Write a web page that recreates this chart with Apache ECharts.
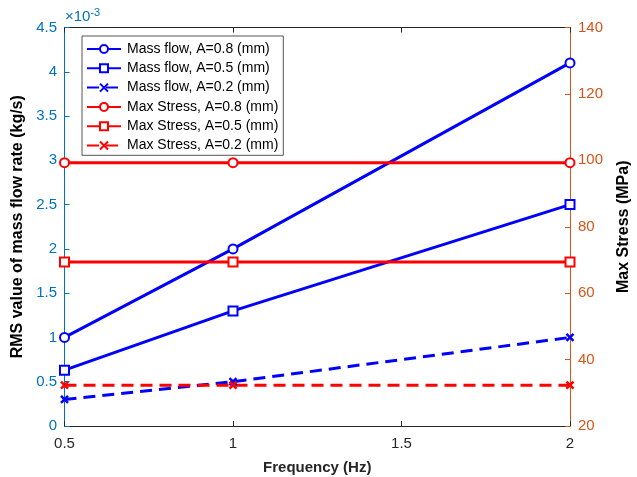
<!DOCTYPE html>
<html>
<head>
<meta charset="utf-8">
<script src="https://cdn.jsdelivr.net/npm/echarts@6/dist/echarts.min.js"></script>
<style>
  html, body { margin: 0; padding: 0; background: #fff; }
  #chart { width: 637px; height: 477px; }
</style>
</head>
<body>
<div id="chart"></div>
<script>
// frequency points (Hz)
const frequency = [0.5, 1, 2];

// RMS mass flow rate, in units of 1e-3 kg/s
const massFlow08 = [1.0, 2.0, 4.1];
const massFlow05 = [0.63, 1.3, 2.5];
const massFlow02 = [0.3, 0.5, 1.0];

// max stress (MPa)
const stress08 = [99.3, 99.3, 99.3];
const stress05 = [69.4, 69.4, 69.4];
const stress02 = [32.3, 32.3, 32.3];

const xTicks = ['0.5', '1', '1.5', '2'];

const FONT = "'Liberation Sans', Arial, sans-serif";
const BLUE = '#0000ff';
const RED = '#ff0000';
const LEFT_AXIS = '#0072bd';
const RIGHT_AXIS = '#d95319';
const CROSS = 'path://M0,0L10,10M10,0L0,10';

const pairs = (ys) => frequency.map((x, i) => [x, ys[i]]);

function makeSeries(name, ys, color, symbol, dashed, axis) {
  return {
    name: name,
    type: 'line',
    xAxisIndex: 0,
    yAxisIndex: axis,
    data: pairs(ys),
    symbol: symbol,
    symbolSize: symbol === CROSS ? 7 : 9,
    showSymbol: true,
    animation: false,
    lineStyle: { color: color, width: 3, type: dashed ? [12, 7] : 'solid' },
    itemStyle: { color: color, borderColor: color, borderWidth: symbol === CROSS ? 2.5 : 2 },
  };
}

const chart = echarts.init(document.getElementById('chart'));

const option = {
  backgroundColor: '#fff',
  animation: false,
  textStyle: { fontFamily: FONT },
  grid: { left: 64.5, right: 67, top: 27.5, bottom: 51, containLabel: false, outerBoundsMode: 'none' },
  legend: {
    orient: 'vertical',
    left: 82,
    top: 36,
    padding: [5.5, 5, 2.3, 4],
    itemWidth: 34,
    itemHeight: 10,
    itemGap: 4.3,
    backgroundColor: '#fff',
    borderColor: '#555',
    borderWidth: 1,
    textStyle: { fontFamily: FONT, fontSize: 14, color: '#000', lineHeight: 15, padding: [0, 0, 0, 1] },
    data: [
      'Mass flow, A=0.8 (mm)',
      'Mass flow, A=0.5 (mm)',
      'Mass flow, A=0.2 (mm)',
      'Max Stress, A=0.8 (mm)',
      'Max Stress, A=0.5 (mm)',
      'Max Stress, A=0.2 (mm)',
    ],
  },
  xAxis: [
    {
      type: 'value',
      position: 'bottom',
      min: 0.5,
      max: 2,
      interval: 0.5,
      name: 'Frequency (Hz)',
      nameLocation: 'middle',
      nameGap: 34,
      nameTextStyle: { fontFamily: FONT, fontSize: 15, fontWeight: 'bold', color: '#262626' },
      axisLine: { lineStyle: { color: '#262626', width: 1 } },
      axisTick: { inside: true, length: 5, lineStyle: { color: '#262626' } },
      axisLabel: {
        margin: 10,
        fontFamily: FONT,
        fontSize: 15,
        color: '#262626',
        formatter: (v) => xTicks[Math.round((v - 0.5) / 0.5)],
      },
      splitLine: { show: false },
    },
    {
      type: 'value',
      position: 'top',
      min: 0.5,
      max: 2,
      interval: 0.5,
      axisLine: { lineStyle: { color: '#262626', width: 1 } },
      axisTick: { inside: true, length: 5, lineStyle: { color: '#262626' } },
      axisLabel: { show: false },
      splitLine: { show: false },
    },
  ],
  yAxis: [
    {
      type: 'value',
      position: 'left',
      min: 0,
      max: 4.5,
      interval: 0.5,
      name: 'RMS value of mass flow rate (kg/s)',
      nameLocation: 'middle',
      nameGap: 31,
      nameTextStyle: { fontFamily: FONT, fontSize: 16, fontWeight: 'bold', color: '#000' },
      axisLine: { show: true, lineStyle: { color: LEFT_AXIS, width: 1 } },
      axisTick: { show: true, inside: true, length: 5, lineStyle: { color: LEFT_AXIS } },
      axisLabel: { margin: 7.5, fontFamily: FONT, fontSize: 15, color: LEFT_AXIS },
      splitLine: { show: false },
    },
    {
      type: 'value',
      position: 'right',
      min: 20,
      max: 140,
      interval: 20,
      name: 'Max Stress (MPa)',
      nameLocation: 'middle',
      nameGap: 46,
      nameRotate: 90,
      nameTextStyle: { fontFamily: FONT, fontSize: 16, fontWeight: 'bold', color: '#000' },
      axisLine: { show: true, lineStyle: { color: RIGHT_AXIS, width: 1 } },
      axisTick: { show: true, inside: true, length: 5, lineStyle: { color: RIGHT_AXIS } },
      axisLabel: { margin: 8, fontFamily: FONT, fontSize: 15, color: RIGHT_AXIS },
      splitLine: { show: false },
    },
  ],
  graphic: [
    {
      type: 'text',
      left: 65,
      top: 7,
      style: {
        text: '{a|×10}{b|-3}',
        rich: {
          a: { fontFamily: FONT, fontSize: 15, fill: LEFT_AXIS, verticalAlign: 'bottom', lineHeight: 17 },
          b: { fontFamily: FONT, fontSize: 11, fill: LEFT_AXIS, verticalAlign: 'top', lineHeight: 11, padding: [0, 0, 6, 0] },
        },
      },
    },
  ],
  series: [
    makeSeries('Mass flow, A=0.8 (mm)', massFlow08, BLUE, 'emptyCircle', false, 0),
    makeSeries('Mass flow, A=0.5 (mm)', massFlow05, BLUE, 'emptyRect', false, 0),
    makeSeries('Mass flow, A=0.2 (mm)', massFlow02, BLUE, CROSS, true, 0),
    makeSeries('Max Stress, A=0.8 (mm)', stress08, RED, 'emptyCircle', false, 1),
    makeSeries('Max Stress, A=0.5 (mm)', stress05, RED, 'emptyRect', false, 1),
    makeSeries('Max Stress, A=0.2 (mm)', stress02, RED, CROSS, true, 1),
  ],
};

chart.setOption(option);
</script>
</body>
</html>
